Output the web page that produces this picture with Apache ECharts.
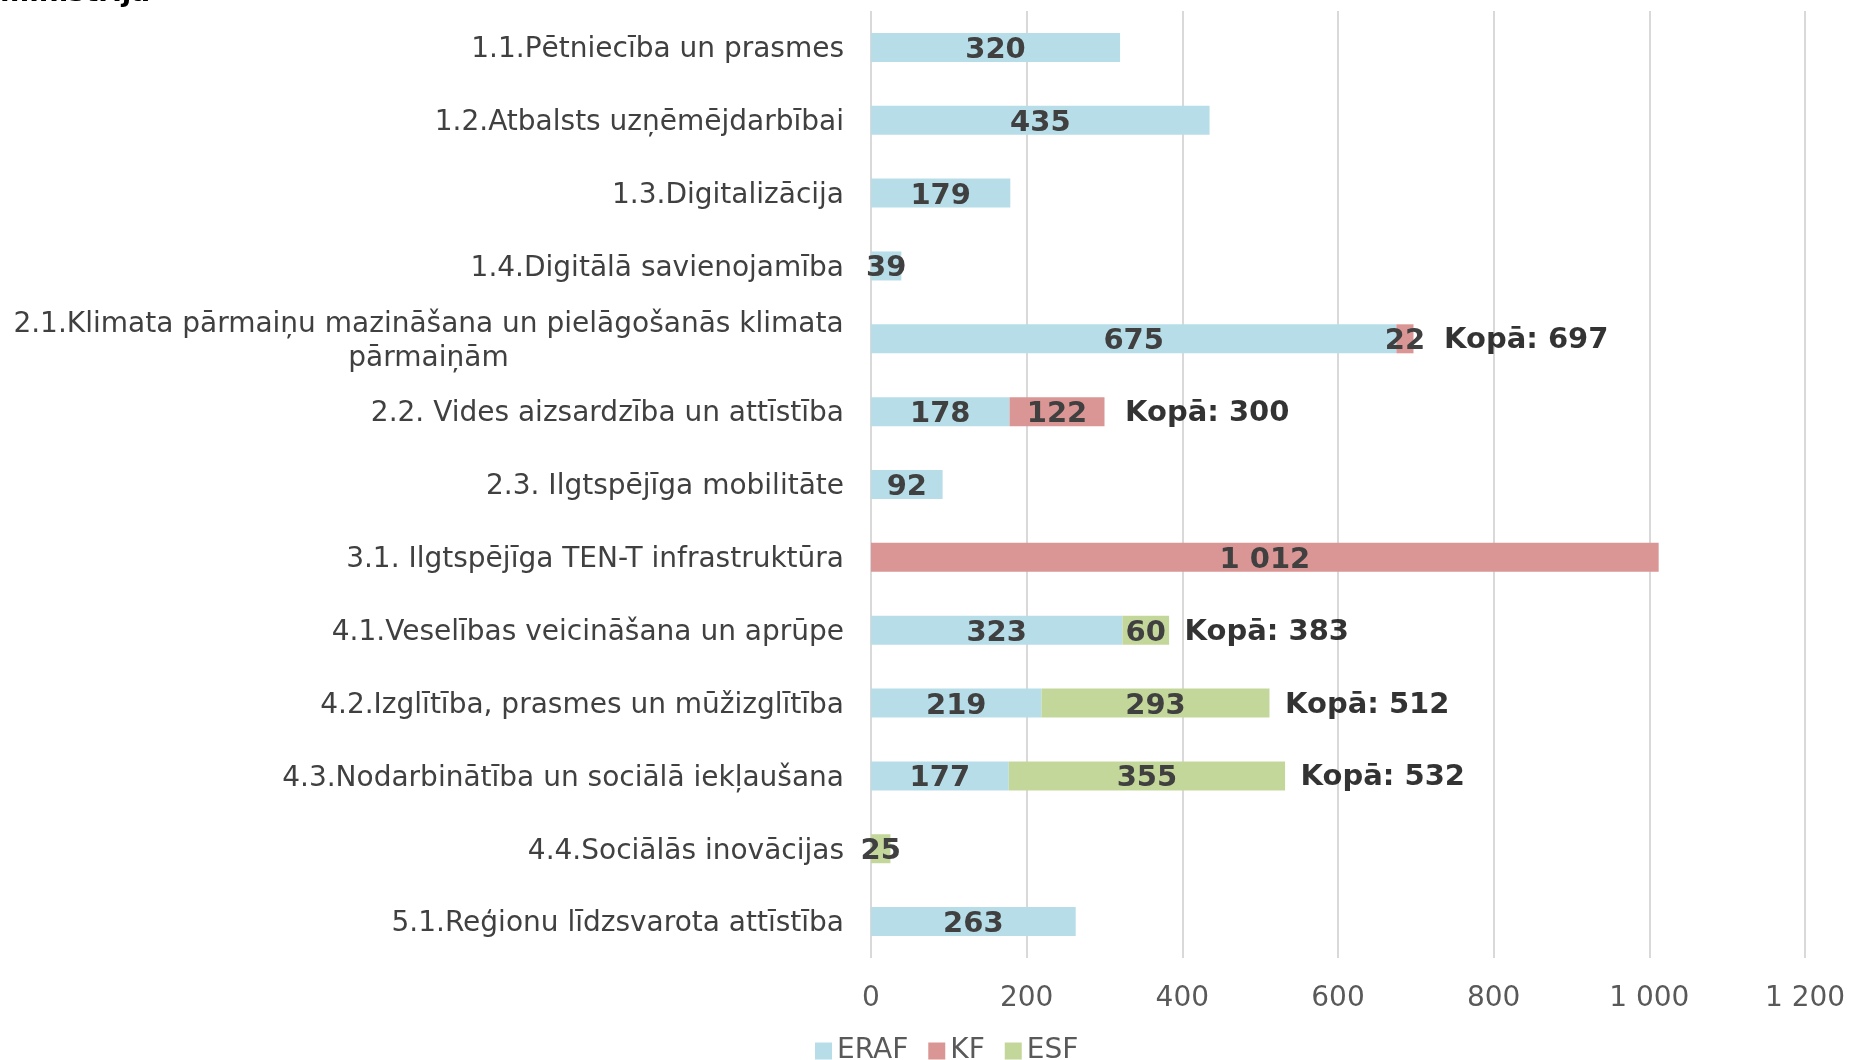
<!DOCTYPE html>
<html><head><meta charset="utf-8">
<script src="https://cdn.jsdelivr.net/npm/echarts@6/dist/echarts.min.js"></script>
<style>html,body{margin:0;padding:0;background:#fff}#c{width:1849px;height:1060px}</style>
</head><body><div id="c"></div>
<script>
const categories = [
  '1.1.Pētniecība un prasmes',
  '1.2.Atbalsts uzņēmējdarbībai',
  '1.3.Digitalizācija',
  '1.4.Digitālā savienojamība',
  '2.1.Klimata pārmaiņu mazināšana un pielāgošanās klimata\npārmaiņām',
  '2.2. Vides aizsardzība un attīstība',
  '2.3. Ilgtspējīga mobilitāte',
  '3.1. Ilgtspējīga TEN-T infrastruktūra',
  '4.1.Veselības veicināšana un aprūpe',
  '4.2.Izglītība, prasmes un mūžizglītība',
  '4.3.Nodarbinātība un sociālā iekļaušana',
  '4.4.Sociālās inovācijas',
  '5.1.Reģionu līdzsvarota attīstība'
];
const eraf = [320, 435, 179, 39, 675, 178, 92, null, 323, 219, 177, null, 263];
const kf   = [null, null, null, null, 22, 122, null, 1012, null, null, null, null, null];
const esf  = [null, null, null, null, null, null, null, null, 60, 293, 355, 25, null];
const totals = [null, null, null, null, 697, 300, null, null, 383, 512, 532, null, null];
const totalGap = [0, 0, 0, 0, 30, 20, 0, 0, 15, 15, 15, 0, 0];
const xTicks = [0, 200, 400, 600, 800, 1000, 1200];

const FONT = '"DejaVu Sans", Verdana, sans-serif';
const CAT_FS = 28;
function fmt(v) { return String(Math.round(v)).replace(/\B(?=(\d{3})+(?!\d))/g, ' '); }

const cv = document.createElement('canvas').getContext('2d');
cv.font = CAT_FS + 'px ' + FONT;
const longLine = categories[4].split('\n')[0];
const longW = Math.ceil(cv.measureText(longLine).width);

const chart = echarts.init(document.getElementById('c'));
const valLabel = {
  show: true, position: 'inside', offset: [0, 3], fontFamily: FONT, fontWeight: 'bold', fontSize: 29, color: '#404040',
  formatter: p => (p.value ? fmt(p.value) : '')
};
function barSeries(name, data, color) {
  return {
    name, type: 'bar', stack: 'a', data, barWidth: 29,
    itemStyle: { color }, label: valLabel, emphasis: { disabled: true }
  };
}
chart.setOption({
  animation: false,
  textStyle: { fontFamily: FONT },
  graphic: [{ type: 'text', left: 0, top: -20, style: { text: 'ministrija', font: 'bold 28px ' + FONT, fill: '#000' } }],
  grid: { left: 871, right: 44, top: 11, bottom: 102, containLabel: false },
  legend: {
    left: 810, top: 1032, icon: 'rect', itemWidth: 17, itemHeight: 17, itemGap: 20,
    textStyle: { fontFamily: FONT, fontSize: 28, color: '#595959' },
    data: ['ERAF', 'KF', 'ESF']
  },
  xAxis: {
    type: 'value', min: 0, max: 1200, interval: 200,
    axisLine: { show: false }, axisTick: { show: false },
    splitLine: { lineStyle: { color: '#D9D9D9', width: 2 } },
    axisLabel: { fontFamily: FONT, fontSize: 28, color: '#595959', margin: 27, formatter: v => fmt(v) }
  },
  yAxis: {
    type: 'category', inverse: true, data: categories,
    axisLine: { show: false }, axisTick: { show: false },
    axisLabel: {
      fontFamily: FONT, fontSize: CAT_FS, color: '#404040', margin: 27, lineHeight: 34,
      padding: [5, 0, 0, 0],
      formatter: v => v.indexOf('\n') >= 0 ? v.split('\n').map(s => '{c|' + s + '}').join('\n') : v,
      rich: { c: { width: longW, align: 'center', fontFamily: FONT, fontSize: CAT_FS, color: '#404040', lineHeight: 34 } }
    }
  },
  series: [
    barSeries('ERAF', eraf, '#B7DDE8'),
    barSeries('KF', kf, '#DA9694'),
    barSeries('ESF', esf, '#C4D79B'),
    {
      name: 'Kopā', type: 'scatter', symbolSize: 1, itemStyle: { color: 'rgba(0,0,0,0)' },
      silent: true, legendHoverLink: false,
      data: totals.map((v, i) => v == null ? null : {
        value: v,
        label: { show: true, position: 'right', distance: totalGap[i], offset: [0, 2], formatter: 'Kopā: ' + fmt(v),
                 fontFamily: FONT, fontWeight: 'bold', fontSize: 29, color: '#000' }
      })
    }
  ]
});
</script></body></html>
